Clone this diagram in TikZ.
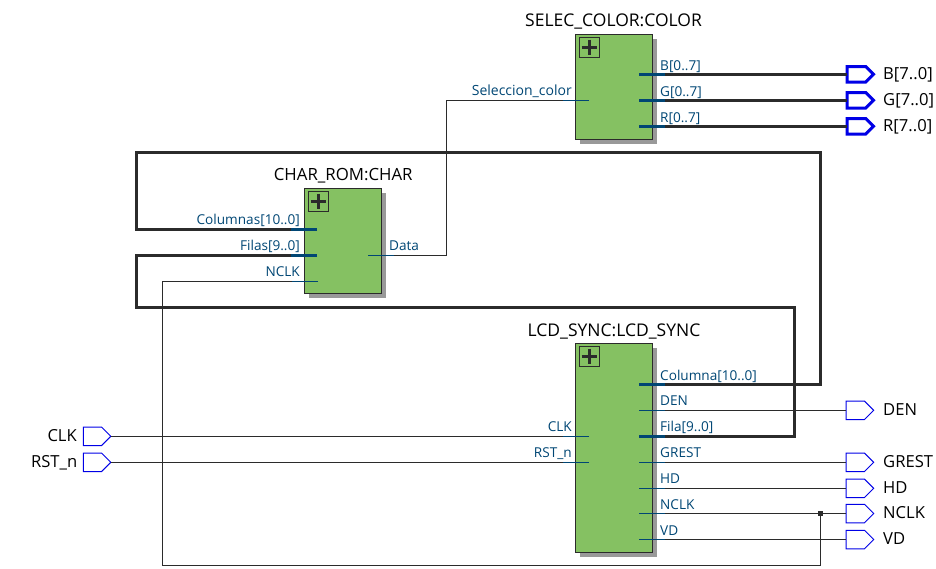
\documentclass[tikz,border=0pt]{standalone}
\usepackage{fontspec}
\setmainfont{Open Sans}
\usetikzlibrary{shapes.symbols}
\definecolor{blockgreen}{HTML}{85C162}
\definecolor{shadowgray}{HTML}{999999}
\definecolor{wiredark}{HTML}{2B2B2B}
\definecolor{portblue}{HTML}{004674}
\definecolor{pinblue}{HTML}{0000E6}
\tikzset{
 x=1pt,y=-1pt,
 blockbox/.style={draw=wiredark,line width=1pt,fill=blockgreen,minimum width=76.8pt,inner sep=0pt,outer sep=0pt,anchor=north west},
 shadowbox/.style={fill=shadowgray,draw=none,minimum width=76.8pt,inner sep=0pt,outer sep=0pt,anchor=north west},
 plusbox/.style={draw=wiredark,line width=.8pt,minimum width=20pt,minimum height=20pt,inner sep=0pt,outer sep=0pt,anchor=north west},
 title/.style={font=\fontsize{17.5}{18}\selectfont,text=black,inner sep=0pt,anchor=base},
 portl/.style={font=\fontsize{13.6}{14}\selectfont,text=portblue,inner sep=0pt,anchor=base east},
 portr/.style={font=\fontsize{13.6}{14}\selectfont,text=portblue,inner sep=0pt,anchor=base west},
 pinl/.style={font=\fontsize{16.6}{17}\selectfont,text=black,inner sep=0pt,anchor=base east},
 pinr/.style={font=\fontsize{16.6}{17}\selectfont,text=black,inner sep=0pt,anchor=base west},
 pinthin/.style={signal,signal to=east,signal pointer angle=90,draw=pinblue,line width=1pt,minimum width=27.5pt,minimum height=18.5pt,inner sep=0pt,outer sep=0pt,anchor=west},
 pinbold/.style={pinthin,line width=3pt,minimum width=26.5pt,minimum height=15.5pt},
 thin wire/.style={draw=wiredark,line width=1pt},
 thick wire/.style={draw=wiredark,line width=3pt,line cap=butt,line join=miter},
 thin stub/.style={draw=portblue,line width=1pt},
 thick stub/.style={draw=portblue,line width=3pt},
}
\newcommand{\plussign}[1]{\draw[wiredark,line width=2.6pt] ([xshift=2.2pt]#1.west)--([xshift=-2.2pt]#1.east) ([yshift=-2.2pt]#1.north)--([yshift=2.2pt]#1.south);}
\begin{document}
\begin{tikzpicture}
\useasboundingbox (0,0) rectangle (936,569);
% shadows
\node[shadowbox,minimum height=104.8pt] (s1) at (580.3,38.8) {};
\node[shadowbox,minimum height=105.4pt] (s2) at (309,192.8) {};
\node[shadowbox,minimum height=209pt] (s3) at (580.3,347.8) {};
% blocks
\node[blockbox,minimum height=104.8pt] (color) at (575.8,34.4) {};
\node[blockbox,minimum height=105.4pt] (char) at (304.6,188.4) {};
\node[blockbox,minimum height=209pt] (sync) at (575.8,343.4) {};
\node[plusbox] (p1) at (579.5,37.4) {};
\node[plusbox] (p2) at (308.5,191.4) {};
\node[plusbox] (p3) at (579.5,346.4) {};
\plussign{p1}\plussign{p2}\plussign{p3}
% titles
\node[title] (tcolor) at (613.5,27) {SELEC\_COLOR:COLOR};
\node[title,font=\fontsize{16.8}{18}\selectfont] (tchar) at (343.2,181) {CHAR\_ROM:CHAR};
\node[title] (tsync) at (614,336) {LCD\_SYNC:LCD\_SYNC};
% pins
\node[pinbold] (pB) at (847,74.3) {};
\node[pinbold] (pG) at (847,100.3) {};
\node[pinbold] (pR) at (847,126.3) {};
\node[pinthin] (pDEN) at (846.2,410.3) {};
\node[pinthin] (pGREST) at (846.2,462.3) {};
\node[pinthin] (pHD) at (846.2,488.3) {};
\node[pinthin] (pNCLK) at (846.2,513.5) {};
\node[pinthin] (pVD) at (846.2,539.5) {};
\node[pinthin] (pCLK) at (83.3,436.3) {};
\node[pinthin] (pRST) at (83.3,462.3) {};
% pin labels
\node[pinr] (lB) at (883,79.5) {B[7..0]};
\node[pinr] (lG) at (883,105.5) {G[7..0]};
\node[pinr] (lR) at (883,131.5) {R[7..0]};
\node[pinr] (lDEN) at (883,415.5) {DEN};
\node[pinr] (lGREST) at (883,467.5) {GREST};
\node[pinr] (lHD) at (883,493.5) {HD};
\node[pinr] (lNCLK) at (883,518.5) {NCLK};
\node[pinr] (lVD) at (883,544.5) {VD};
\node[pinl] (lCLK) at (77,441.5) {CLK};
\node[pinl] (lRST) at (77.5,467.5) {RST\_n};
% port coordinates
\coordinate (cBi) at (639,74.3); \coordinate (cBo) at (665,74.3);
\coordinate (cGi) at (639,100.3); \coordinate (cGo) at (665,100.3);
\coordinate (cRi) at (639,126.3); \coordinate (cRo) at (665,126.3);
\coordinate (cSi) at (589,100.3); \coordinate (cSo) at (563,100.3);
\coordinate (rCi) at (317,229.3); \coordinate (rCo) at (291,229.3);
\coordinate (rFi) at (317,255.3); \coordinate (rFo) at (291,255.3);
\coordinate (rNi) at (318,281.3); \coordinate (rNo) at (292,281.3);
\coordinate (rDi) at (368,255.3); \coordinate (rDo) at (394,255.3);
\coordinate (yCi) at (639,384.3); \coordinate (yCo) at (665,384.3);
\coordinate (yDi) at (639,410.3); \coordinate (yDo) at (665,410.3);
\coordinate (yFi) at (639,436.3); \coordinate (yFo) at (665,436.3);
\coordinate (yGi) at (639,462.3); \coordinate (yGo) at (665,462.3);
\coordinate (yHi) at (639,488.3); \coordinate (yHo) at (665,488.3);
\coordinate (yNi) at (639,513.5); \coordinate (yNo) at (665,513.5);
\coordinate (yVi) at (639,539.5); \coordinate (yVo) at (665,539.5);
\coordinate (yKi) at (589,436.3); \coordinate (yKo) at (563,436.3);
\coordinate (yRi) at (589,462.3); \coordinate (yRo) at (563,462.3);
\node[fill=wiredark,minimum size=5pt,inner sep=0pt] (junc) at (820.4,513.5) {};
% wires
\draw[thick wire] (cBo)--(pB.west);
\draw[thick wire] (cGo)--(pG.west);
\draw[thick wire] (cRo)--(pR.west);
\draw[thick wire] (yCo)-|(820.4,152.7)-|(136.4,229.3)--(rCo);
\draw[thick wire] (yFo)-|(794.4,307)-|(136.4,255.3)--(rFo);
\draw[thin wire] (rDo)-|(446.5,100.3)--(cSo);
\draw[thin wire] (yDo)--(pDEN.west);
\draw[thin wire] (yGo)--(pGREST.west);
\draw[thin wire] (yHo)--(pHD.west);
\draw[thin wire] (yNo)--(pNCLK.west);
\draw[thin wire] (yVo)--(pVD.west);
\draw[thin wire] (pCLK.east)--(yKo);
\draw[thin wire] (pRST.east)--(yRo);
\draw[thin wire] (junc.center)--(820.4,565.4)-|(162.5,281.3)--(rNo);
% stubs
\foreach \a/\b in {cBi/cBo,cGi/cGo,cRi/cRo,rCi/rCo,rFi/rFo,yCi/yCo,yFi/yFo}{\draw[thick stub] (\a)--(\b);}
\foreach \a/\b in {cSi/cSo,rNi/rNo,rDi/rDo,yDi/yDo,yGi/yGo,yHi/yHo,yNi/yNo,yVi/yVo,yKi/yKo,yRi/yRo}{\draw[thin stub] (\a)--(\b);}
% port labels
\node[portr] (nB) at (660,71) {B[0..7]};
\node[portr] (nG) at (660,96.5) {G[0..7]};
\node[portr] (nR) at (660,122.5) {R[0..7]};
\node[portl,font=\fontsize{14}{14}\selectfont] (nS) at (572,96) {Seleccion\_color};
\node[portl] (nC) at (300,225) {Columnas[10..0]};
\node[portl] (nF) at (300,250.5) {Filas[9..0]};
\node[portl] (nN) at (300,276.5) {NCLK};
\node[portr] (nD) at (389,250.5) {Data};
\node[portr] (mC) at (660,380) {Columna[10..0]};
\node[portr] (mD) at (660,405.5) {DEN};
\node[portr] (mF) at (660,431.5) {Fila[9..0]};
\node[portr] (mG) at (660,457) {GREST};
\node[portr] (mH) at (660,483.5) {HD};
\node[portr] (mN) at (660,509) {NCLK};
\node[portr] (mV) at (660,535) {VD};
\node[portl] (mK) at (572,431.5) {CLK};
\node[portl] (mR) at (572,457) {RST\_n};
\end{tikzpicture}
\end{document}
